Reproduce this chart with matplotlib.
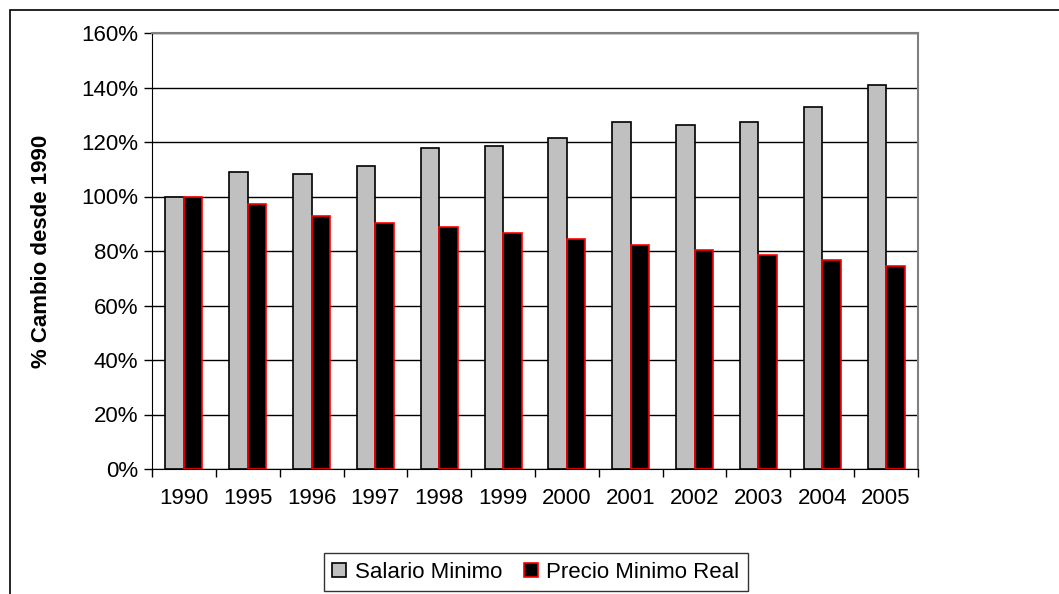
import matplotlib.pyplot as plt
import numpy as np
from matplotlib.patches import Rectangle
from matplotlib.ticker import FuncFormatter, MultipleLocator

plt.rcParams['font.family'] = ['Liberation Sans', 'DejaVu Sans']

years = ['1990', '1995', '1996', '1997', '1998', '1999', '2000', '2001',
         '2002', '2003', '2004', '2005']
salario = [100, 109, 108.3, 111.2, 117.8, 118.5, 121.5, 127.3, 126.2, 127.3, 132.8, 140.9]
precio = [100, 97.2, 93.0, 90.3, 88.8, 86.6, 84.4, 82.2, 80.4, 78.5, 76.7, 74.5]

W, H = 1059, 594
FS = 16
fig = plt.figure(figsize=(W / 100, H / 100), dpi=100)
ax = fig.add_axes([152 / W, 1 - 469 / H, (918 - 152) / W, (469 - 33) / H])

# outer chart frame (only top/left visible in the original)
fig.patches.append(Rectangle((10 / W, -0.1), 1.2, 1.1 - 10 / H,
                             transform=fig.transFigure, fill=False,
                             edgecolor='black', linewidth=1.2))

x = np.arange(len(years))
bw = 0.29
ax.bar(x - bw / 2, salario, bw, color='#c0c0c0', edgecolor='black',
       linewidth=1.2, label='Salario Minimo', zorder=3)
ax.bar(x + bw / 2, precio, bw, color='black', edgecolor='red',
       linewidth=1.2, label='Precio Minimo Real', zorder=3)

ax.set_xlim(-0.5, len(years) - 0.5)
ax.set_ylim(0, 160)
ax.yaxis.set_major_locator(MultipleLocator(20))
ax.yaxis.set_major_formatter(FuncFormatter(lambda v, p: f'{v:.0f}%'))
ax.grid(axis='y', color='black', linewidth=1, zorder=0)

ax.set_xticks(np.arange(-0.5, len(years), 1))
ax.set_xticklabels([])
ax.set_xticks(x, minor=True)
ax.set_xticklabels(years, minor=True)
ax.tick_params(axis='x', which='major', length=6, direction='out', width=1)
ax.tick_params(axis='x', which='minor', length=0, pad=14, labelsize=FS)
ax.tick_params(axis='y', length=6, width=1, labelsize=FS, pad=4)

for s in ['top', 'right']:
    ax.spines[s].set_color('#808080')
    ax.spines[s].set_linewidth(1.5)
ax.spines['left'].set_color('black')
ax.spines['bottom'].set_color('black')

ax.set_ylabel('% Cambio desde 1990', fontsize=FS, fontweight='bold')
ax.yaxis.set_label_coords((52 - 152) / (918 - 152), 0.5)

leg = fig.legend(loc='center', bbox_to_anchor=(536 / W, 1 - 572 / H), ncol=2,
                 fontsize=FS, frameon=True, fancybox=False, handlelength=0.6,
                 handleheight=0.6, handletextpad=0.4, columnspacing=1.0,
                 borderpad=0.4, borderaxespad=0)
leg.get_frame().set_edgecolor('black')
leg.get_frame().set_linewidth(1)

fig.savefig('out.png', dpi=100)
